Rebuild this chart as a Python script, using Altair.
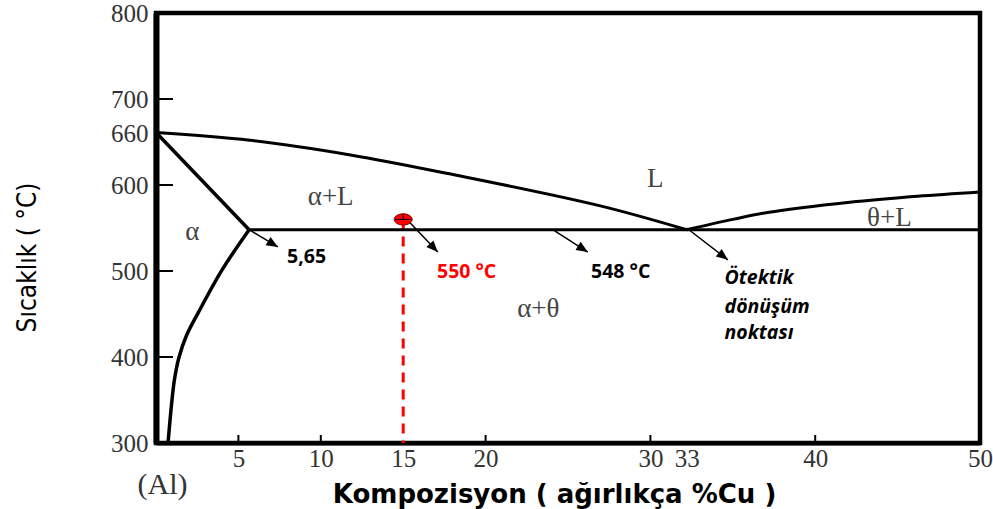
import math
import altair as alt
import pandas as pd

# ---------------- data ----------------
# axis ticks
x_tick_values = [5, 10, 15, 20, 30, 32.2, 40, 50]
x_tick_labels = ["5", "10", "15", "20", "30", "33", "40", "50"]
x_tick_marks = [5, 10, 20, 30, 40]
y_tick_values = [300, 400, 500, 600, 660, 700, 800]
y_tick_marks = [400, 500, 600, 700]

# liquidus (alpha side)
liq_a_x = [0, 5.7, 11.8, 17.8, 26.9, 32.2]
liq_a_t = [661, 652, 635, 613, 576, 548]
# solidus
sol_x = [0, 5.65]
sol_t = [661, 548]
# solvus
solv_x = [5.65, 4.0, 2.55, 1.85, 1.4, 1.13, 0.97, 0.73]
solv_t = [548, 501, 451, 425, 400, 375, 350, 300]
# liquidus (theta side)
liq_t_x = [32.2, 35.0, 37.1, 42.1, 46.2, 50]
liq_t_t = [548, 560, 568, 580, 587, 592]
# eutectic isotherm
eut_x = [5.65, 50]
eut_t = [548, 548]

# region labels
region_text = ["α", "α+L", "L", "θ+L", "α+θ"]
region_x = [2.2, 10.6, 30.3, 44.5, 23.2]
region_t = [545.5, 586, 607, 562, 456]

# marked point at 15 %Cu
point_x = [15]
point_t = [560]

# arrows: start and end
arrow_x1 = [5.65, 15.2, 24.1, 32.2]
arrow_t1 = [548, 560.5, 547.7, 550]
arrow_x2 = [7.4, 17.1, 26.2, 34.7]
arrow_t2 = [528, 522, 522, 513]

# annotation texts
note_text = ["5,65", "548 °C", "Ötektik", "dönüşüm", "noktası"]
note_x = [7.95, 26.4, 34.5, 34.5, 34.5]
note_t = [516, 499, 491.5, 458.5, 428]
red_text = ["550 °C"]
red_x = [17.05]
red_t = [499]

al_text = ["(Al)"]
al_x = [0.4]
al_t = [251]

# ---------------- chart ----------------
W, H = 824, 430
px_x = W / 50.0
px_t = H / 500.0

label_expr = " : ".join(
    f"datum.value == {v} ? '{l}'" for v, l in zip(x_tick_values, x_tick_labels)
) + " : datum.label"

X_SCALE = alt.Scale(domain=[0, 50], nice=False, zero=False)
Y_SCALE = alt.Scale(domain=[300, 800], nice=False, zero=False)

X_AXIS = alt.Axis(
    values=x_tick_values, labelExpr=label_expr, grid=False, tickSize=0,
    labelFont="Liberation Serif", labelFontSize=25, labelColor="#333",
    labelPadding=3, labelFlush=False, labelOverlap=False,
    domainColor="black", domainWidth=4,
    title="Kompozisyon ( ağırlıkça %Cu )", titleFont="DejaVu Sans",
    titleFontSize=26, titleFontWeight="bold", titleColor="black",
    titleX=398, titleY=51, titleAlign="center", titleBaseline="middle",
)
Y_AXIS = alt.Axis(
    values=y_tick_values, grid=False, tickSize=0,
    labelFont="Liberation Serif", labelFontSize=25, labelColor="#333",
    labelPadding=8, labelFlush=False, labelOverlap=False,
    domainColor="black", domainWidth=6,
    title="Sıcaklık ( °C)",
    titleFont="DejaVu Sans Condensed, Liberation Sans Narrow, sans-serif",
    titleFontSize=26, titleFontWeight="normal", titleColor="black",
    titleX=-129, titleY=244, titleAngle=270, titleAlign="center",
    titleBaseline="middle",
)


def ex(f="x"):
    return alt.X(f"{f}:Q", scale=X_SCALE, axis=X_AXIS)


def ey(f="t"):
    return alt.Y(f"{f}:Q", scale=Y_SCALE, axis=Y_AXIS)


def curve(xs, ts, width, interp="linear"):
    df = pd.DataFrame({"x": xs, "t": ts, "o": list(range(len(xs)))})
    return alt.Chart(df).mark_line(
        color="black", strokeWidth=width, interpolate=interp
    ).encode(x=ex(), y=ey(), order="o:Q")


layers = []

# red dashed vertical line
dash_df = pd.DataFrame({"x": point_x, "t": point_t, "t2": [300]})
layers.append(
    alt.Chart(dash_df).mark_rule(color="#ff0000", strokeWidth=3, strokeDash=[10, 7])
    .encode(x=ex(), y=ey(), y2="t2:Q")
)

# curves
layers.append(curve(liq_a_x, liq_a_t, 3, "catmull-rom"))
layers.append(curve(sol_x, sol_t, 3.5))
layers.append(curve(solv_x, solv_t, 3.5, "catmull-rom"))
layers.append(curve(liq_t_x, liq_t_t, 3, "catmull-rom"))
layers.append(curve(eut_x, eut_t, 3))

# inward tick marks
ytk = pd.DataFrame({"t": y_tick_marks})
layers.append(
    alt.Chart(ytk).mark_rule(color="black", strokeWidth=2)
    .encode(y=ey(), x=alt.value(0), x2=alt.value(17))
)
xtk = pd.DataFrame({"x": x_tick_marks})
layers.append(
    alt.Chart(xtk).mark_rule(color="black", strokeWidth=2)
    .encode(x=ex(), y=alt.value(H), y2=alt.value(H - 8))
)

# arrows
angles = [
    math.degrees(math.atan2((t1 - t2) * px_t, (x2 - x1) * px_x))
    for x1, t1, x2, t2 in zip(arrow_x1, arrow_t1, arrow_x2, arrow_t2)
]
arr_df = pd.DataFrame({
    "x": arrow_x1, "t": arrow_t1, "x2": arrow_x2, "t2": arrow_t2, "angle": angles
})
layers.append(
    alt.Chart(arr_df).mark_rule(color="black", strokeWidth=1.5)
    .encode(x=ex(), y=ey(), x2="x2:Q", y2="t2:Q")
)
head_df = pd.DataFrame({"x": arrow_x2, "t": arrow_t2, "angle": angles})
layers.append(
    alt.Chart(head_df).mark_point(
        shape="M0,0L-1,-0.42L-1,0.42Z", size=529, filled=True,
        color="black", opacity=1
    ).encode(x=ex(), y=ey(), angle=alt.Angle("angle:Q", scale=None))
)

# red point
pt_df = pd.DataFrame({"x": point_x, "t": point_t})
layers.append(
    alt.Chart(pt_df).mark_point(
        shape="M-1,0A1,0.62,0,1,1,1,0A1,0.62,0,1,1,-1,0Z", size=324,
        filled=True, color="#ff0000", stroke="#8b0000", strokeWidth=1, opacity=1
    ).encode(x=ex(), y=ey())
)
layers.append(
    alt.Chart(pt_df).mark_point(
        shape="M0,-0.62L0,0M-0.9,0L0.9,0", size=324, filled=False,
        color="black", strokeWidth=1, opacity=1
    ).encode(x=ex(), y=ey())
)

# region labels
reg_df = pd.DataFrame({"x": region_x, "t": region_t, "label": region_text})
layers.append(
    alt.Chart(reg_df).mark_text(
        font="Liberation Serif", fontSize=27, color="#444",
        align="center", baseline="middle"
    ).encode(x=ex(), y=ey(), text="label:N")
)

# annotation texts
note_df = pd.DataFrame({"x": note_x, "t": note_t, "label": note_text})
layers.append(
    alt.Chart(note_df.iloc[:2]).mark_text(
        font="Open Sans", fontSize=19.5, fontWeight="bold", color="black",
        align="left", baseline="middle"
    ).encode(x=ex(), y=ey(), text="label:N")
)
layers.append(
    alt.Chart(note_df.iloc[2:]).mark_text(
        font="Open Sans", fontSize=19.5, fontWeight="bold", fontStyle="italic",
        color="black", align="left", baseline="middle"
    ).encode(x=ex(), y=ey(), text="label:N")
)
red_df = pd.DataFrame({"x": red_x, "t": red_t, "label": red_text})
layers.append(
    alt.Chart(red_df).mark_text(
        font="Open Sans", fontSize=19.5, fontWeight="bold", color="#ff0000",
        align="left", baseline="middle"
    ).encode(x=ex(), y=ey(), text="label:N")
)
al_df = pd.DataFrame({"x": al_x, "t": al_t, "label": al_text})
layers.append(
    alt.Chart(al_df).mark_text(
        font="Liberation Serif", fontSize=30, color="#333",
        align="center", baseline="middle"
    ).encode(x=ex(), y=ey(), text="label:N")
)

chart = alt.layer(*layers).properties(
    width=W, height=H,
    padding={"left": 156, "top": 13, "right": 13, "bottom": 66},
    autosize=alt.AutoSizeParams(type="none"),
    background="white",
).configure_view(stroke="black", strokeWidth=4.5)

chart.save("out.html", embed_options={"renderer": "svg", "actions": False})
